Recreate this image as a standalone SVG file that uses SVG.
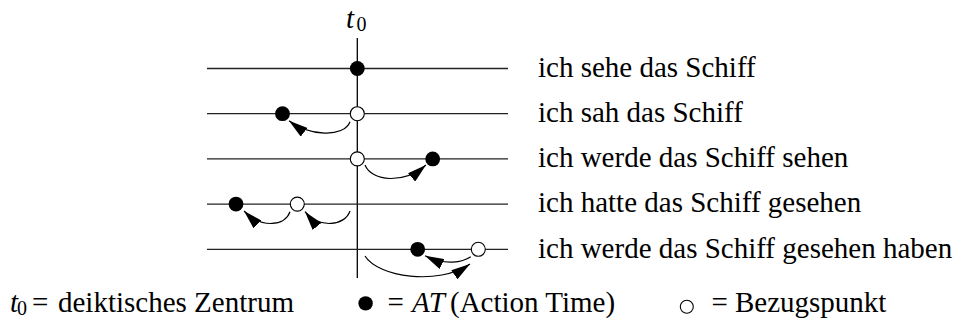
<svg xmlns="http://www.w3.org/2000/svg" width="956" height="324" viewBox="0 0 956 324">
  <style>
    .ln { stroke: #222; stroke-width: 1.3; fill: none; }
    .ax { stroke: #000; stroke-width: 1.3; fill: none; }
    .at { fill: #000; }
    .ref { fill: #fff; stroke: #000; stroke-width: 1.1; }
    .arc { stroke: #000; stroke-width: 1.2; fill: none; marker-end: url(#ah); }
    text { font-size: 29px; fill: #000; }
    .it { font-style: italic; }
    .sub { font-size: 20px; }
  </style>
  <defs>
    <marker id="ah" viewBox="0 0 19 11" refX="19" refY="5.5" markerWidth="19" markerHeight="11" markerUnits="userSpaceOnUse" orient="auto">
      <path d="M0,0 L19,5.5 L0,11 Z" fill="#000"/>
    </marker>
  </defs>

  <g font-family="'Liberation Serif', Tinos, 'Times New Roman', 'DejaVu Serif', serif">
  <g id="axis">
    <line class="ax" x1="357.3" y1="38" x2="357.3" y2="278"/>
    <text x="346" y="27.5" class="it">t</text>
    <text x="356.5" y="30.5" class="sub">0</text>
  </g>

  <g id="row1">
    <line class="ln" x1="207" y1="68.5" x2="508" y2="68.5"/>
    <circle class="at" cx="357.3" cy="68.5" r="7.4"/>
    <text x="538" y="76.8">ich sehe das Schiff</text>
  </g>

  <g id="row2">
    <line class="ln" x1="207" y1="113.7" x2="508" y2="113.7"/>
    <circle class="at" cx="282.5" cy="113.7" r="7.4"/>
    <circle class="ref" cx="357.3" cy="113.7" r="7"/>
    <text x="538" y="122">ich sah das Schiff</text>
  </g>

  <g id="row3">
    <line class="ln" x1="207" y1="158.9" x2="508" y2="158.9"/>
    <circle class="ref" cx="357.3" cy="158.9" r="7"/>
    <circle class="at" cx="432.7" cy="158.9" r="7.4"/>
    <text x="538" y="167.2">ich werde das Schiff sehen</text>
  </g>

  <g id="row4">
    <line class="ln" x1="207" y1="204.1" x2="508" y2="204.1"/>
    <circle class="at" cx="236" cy="204.1" r="7.4"/>
    <circle class="ref" cx="297.3" cy="204.1" r="7"/>
    <text x="538" y="212.4">ich hatte das Schiff gesehen</text>
  </g>

  <g id="row5">
    <line class="ln" x1="207" y1="249.3" x2="508" y2="249.3"/>
    <circle class="at" cx="417.7" cy="249.3" r="7.4"/>
    <circle class="ref" cx="478.3" cy="249.3" r="7"/>
    <text x="538" y="257.6">ich werde das Schiff gesehen haben</text>
  </g>

  <g id="connectors">
    <path class="arc" d="M350,121.7 C344,138 309,136 289,120.7"/>
    <path class="arc" d="M365,165 C372,182 404,184 426,165"/>
    <path class="arc" d="M290,211.7 C285,226 262,229 244,211"/>
    <path class="arc" d="M350,211 C345,226 319,229 305,211.7"/>
    <path class="arc" d="M470.7,256.7 C463,262 446,266 425,255.7"/>
    <path class="arc" d="M365,256 C378,277 438,286 470,264"/>
  </g>

  <g id="legend">
    <text x="10" y="311.5" class="it">t</text>
    <text x="17" y="315" class="sub">0</text>
    <text x="32" y="311.5">=</text>
    <text x="58" y="311.5">deiktisches Zentrum</text>
    <circle class="at" cx="365.6" cy="303.4" r="7.2"/>
    <text x="387.5" y="311.5">=</text>
    <text x="412" y="311.5" class="it">AT</text>
    <text x="450" y="311.5">(Action Time)</text>
    <circle class="ref" cx="686.8" cy="306.8" r="6.5"/>
    <text x="711.5" y="311.5">=</text>
    <text x="735" y="311.5">Bezugspunkt</text>
  </g>
  </g>
</svg>
